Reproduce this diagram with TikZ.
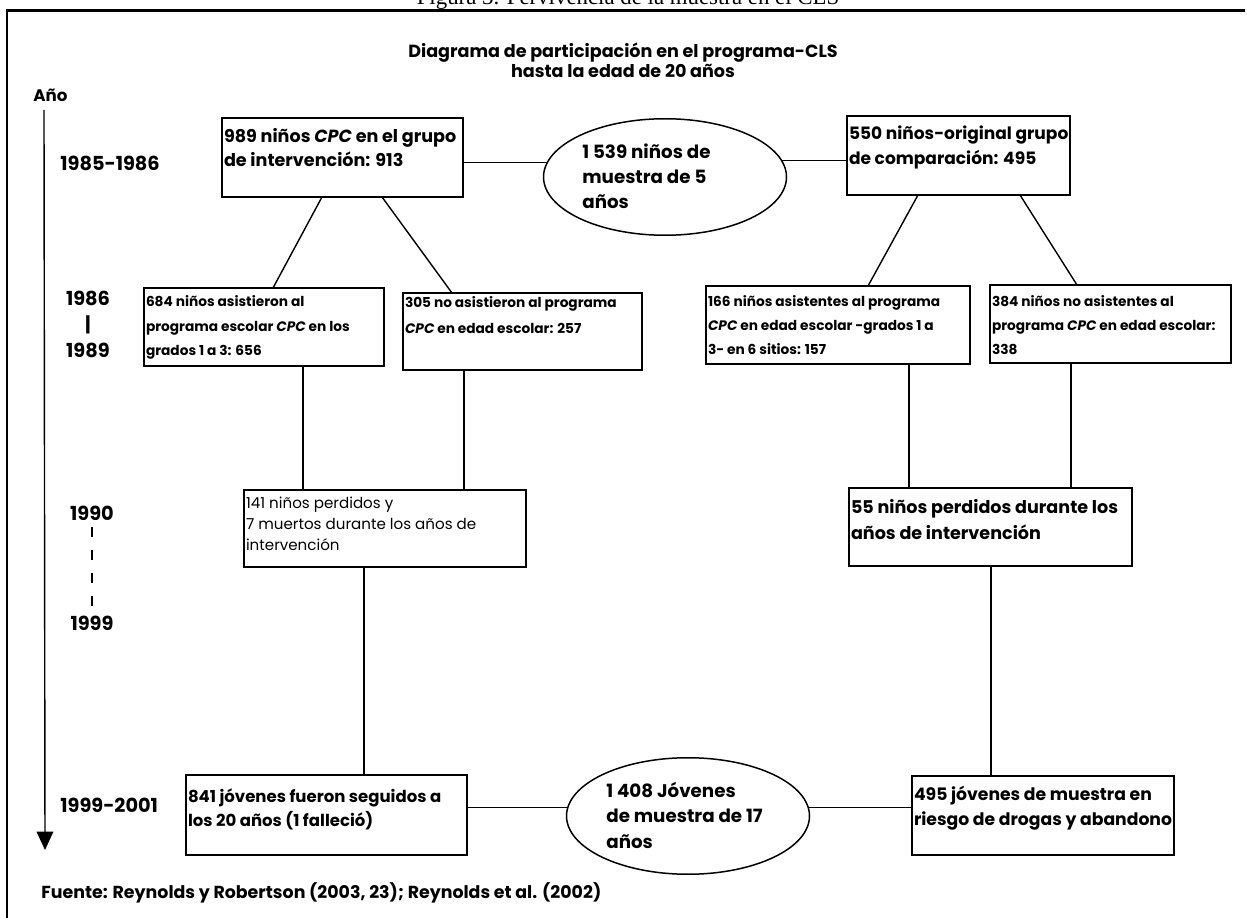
\documentclass[tikz,border=0pt]{standalone}
\usepackage{fontspec}
\setmainfont{Poppins}
\newfontfamily\capfont{Liberation Serif}
\usetikzlibrary{shapes.geometric,arrows.meta,calc}
\newlength\px \setlength\px{0.02cm}
% #1 width, #2 height, #3 first baseline offset, #4 baselineskip, #5 text
\newcommand\bx[5]{\parbox[c][#2\px][t]{#1\px}{\raggedright\leftskip=2\px\setlength\baselineskip{#4\px}\rule{0pt}{#3\px}#5}}
\tikzset{
  box/.style={draw, line width=0.85pt, inner sep=0pt, outer sep=0pt, anchor=north west},
  bigtxt/.style={font=\fontsize{10}{12}\selectfont\bfseries},
  smalltxt/.style={font=\fontsize{7.8}{10}\selectfont\bfseries},
  thintxt/.style={font=\fontsize{8.6}{10}\selectfont},
  ovaltxt/.style={font=\fontsize{10.4}{12}\selectfont\bfseries},
  oval/.style={draw, ellipse, line width=0.85pt, minimum width=138.3pt, minimum height=66.3pt, inner sep=0pt},
  conn/.style={line width=0.8pt},
  yr/.style={font=\fontsize{11}{13}\selectfont\bfseries, inner sep=0pt},
}
\begin{document}
\begin{tikzpicture}[x=0.02cm, y=-0.02cm]
\useasboundingbox (0,0) rectangle (1247,918);
\fill[white] (0,0) rectangle (1247,918);
\clip (0,0) rectangle (1247,918);

% caption (cut off at top, as in the scan) and frame
\node[font={\capfont\fontsize{13}{15}\selectfont}, anchor=base, inner sep=0pt] (cap) at (628,5) {Figura 3. Pervivencia de la muestra en el CLS};
\draw[line width=1.7pt] (1245,11) -- (7,11) -- (7,925);

% title
\node[font=\fontsize{10}{11.3}\selectfont\bfseries, align=center, inner sep=0pt] (title) at (623,60) {Diagrama de participación en el programa-CLS\\hasta la edad de 20 años};

% time axis
\node[font=\fontsize{9.5}{11}\selectfont\bfseries, inner sep=0pt, anchor=west] (ano) at (33,95) {Año};
\coordinate (t0) at (44,110);
\coordinate (t1) at (45,850);
\draw[conn, -{Triangle[width=9.5pt, length=10.5pt]}] (t0) -- (t1);
\node[yr, anchor=west] (y1) at (60,163) {1985-1986};
\node[yr] (y2) at (88,298) {1986};
\node[yr] (y2b) at (88,325) {|};
\node[yr] (y3) at (88,350) {1989};
\node[yr] (y4) at (92,513) {1990};
\coordinate (d0) at (92,527);
\coordinate (d1) at (92,607);
\draw[conn, dash pattern=on 5.7pt off 7.4pt] (d0) -- (d1);
\node[yr] (y5) at (92,623) {1999};
\node[yr, anchor=west] (y6) at (60,805) {1999-2001};

% level 1
\node[box, bigtxt] (A) at (222,118) {\bx{241}{79}{25}{24}{989 niños \textit{CPC} en el grupo\\de intervención: 913}};
\node[oval] (E1) at (665,177) {};
\node[ovaltxt, inner sep=0pt, anchor=north west] (E1t) at (580,118) {\bx{165}{117}{40}{25}{1 539 niños de\\muestra de 5\\años}};
\node[box, font=\fontsize{9.7}{12}\selectfont\bfseries] (B) at (847,116) {\bx{223}{79}{24}{25}{\mbox{550 niños-original grupo}\\de comparación: 495}};

% level 2
\node[box, smalltxt] (C1) at (144,288) {\bx{240}{78}{19}{24.5}{684 niños asistieron al\\programa escolar \textit{CPC} en los\\grados 1 a 3: 656}};
\node[box, smalltxt] (C2) at (403,293) {\bx{239}{77}{15}{26}{305 no asistieron al programa\\\textit{CPC} en edad escolar: 257}};
\node[box, smalltxt] (D1) at (706,286) {\bx{264}{78}{21}{24}{166 niños asistentes al programa\\\textit{CPC} en edad escolar -grados 1 a\\3- en 6 sitios: 157}};
\node[box, smalltxt] (D2) at (990,285) {\bx{241}{78}{22}{24}{384 niños no asistentes al\\programa \textit{CPC} en edad escolar:\\338}};

% level 3
\node[box, thintxt] (L1) at (244,490) {\bx{282}{77}{18}{21}{141 niños perdidos y\\7 muertos durante los años de\\intervención}};
\node[box, bigtxt] (R1) at (849,488) {\bx{283}{78}{25}{27}{55 niños perdidos durante los\\años de intervención}};

% level 4
\node[box, font=\fontsize{9.4}{12}\selectfont\bfseries] (F1) at (186,775) {\bx{281}{80}{27}{24}{841 jóvenes fueron seguidos a\\los 20 años (1 falleció)}};
\node[oval] (E2) at (688,816) {};
\node[ovaltxt, inner sep=0pt, anchor=north west] (E2t) at (604,758) {\bx{170}{117}{39}{25.5}{1 408 Jóvenes\\de muestra de 17\\años}};
\node[box, font=\fontsize{9.8}{12}\selectfont\bfseries] (F2) at (912,776) {\bx{262}{79}{24}{25}{495 jóvenes de muestra en\\riesgo de drogas y abandono}};

% source
\node[font=\fontsize{9.9}{12}\selectfont\bfseries, anchor=west, inner sep=0pt] (src) at (41,893) {Fuente: Reynolds y Robertson (2003, 23); Reynolds et al. (2002)};

% connectors
\draw[conn] (E1.173) -- (E1.173 -| A.east);
\draw[conn] (E1.8) -- (E1.8 -| B.west);
\draw[conn] ($(A.south west)+(100,0)$) -- ($(C1.north west)+(129,0)$);
\draw[conn] ($(A.south west)+(160,0)$) -- ($(C2.north west)+(49,0)$);
\draw[conn] ($(B.south west)+(71,0)$) -- ($(D1.north west)+(162,0)$);
\draw[conn] ($(B.south west)+(173,0)$) -- ($(D2.north west)+(87,0)$);
\draw[conn] ($(C1.south west)+(159,0)$) -- ($(L1.north west)+(59,0)$);
\draw[conn] ($(C2.south west)+(61,0)$) -- ($(L1.north west)+(220,0)$);
\draw[conn] ($(D1.south west)+(203,0)$) -- ($(R1.north west)+(60,0)$);
\draw[conn] ($(D2.south west)+(81,0)$) -- ($(R1.north west)+(222,0)$);
\draw[conn] ($(L1.south west)+(120,0)$) -- ($(F1.north west)+(178,0)$);
\draw[conn] ($(R1.south west)+(142,0)$) -- ($(F2.north west)+(79,0)$);
\draw[conn] (E2.176) -- (E2.176 -| F1.east);
\draw[conn] (E2.4) -- (E2.4 -| F2.west);
\end{tikzpicture}
\end{document}
